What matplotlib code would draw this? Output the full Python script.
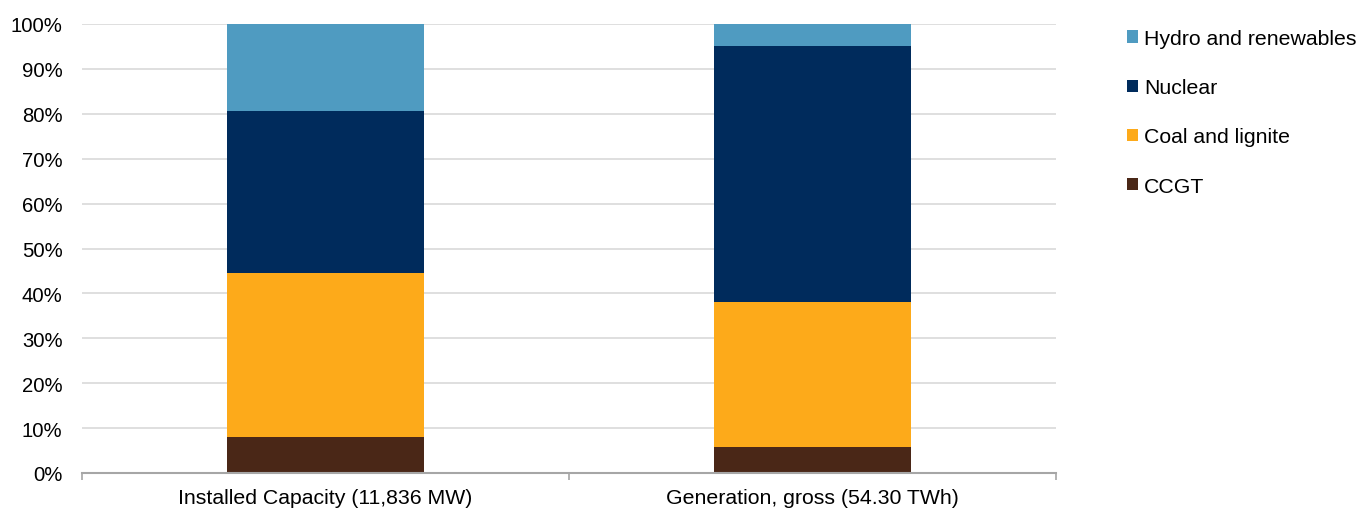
import matplotlib.pyplot as plt
import numpy as np

plt.rcParams['font.family'] = ['Liberation Sans', 'DejaVu Sans']

# Data (percent shares)
categories = ["Installed Capacity (11,836 MW)", "Generation, gross (54.30 TWh)"]
ccgt = [8.0, 5.8]
coal = [36.5, 32.3]
nuclear = [36.1, 57.0]
hydro = [19.4, 4.9]

colors = {"CCGT": "#4a2717", "Coal and lignite": "#fdaa1a",
          "Nuclear": "#002b5c", "Hydro and renewables": "#4f9bc1"}

fig = plt.figure(figsize=(13.6, 5.1), dpi=100)
ax = fig.add_axes([82 / 1360, 1 - 474 / 510, (1056 - 82) / 1360, (474 - 25) / 510])

x = np.arange(len(categories))
w = 0.403
bottom = np.zeros(len(categories))
handles = []
for name, vals in [("CCGT", ccgt), ("Coal and lignite", coal),
                   ("Nuclear", nuclear), ("Hydro and renewables", hydro)]:
    b = ax.bar(x, vals, w, bottom=bottom, color=colors[name], label=name, zorder=3)
    bottom += np.array(vals)
    handles.append(b)

ax.set_xlim(-0.5, 1.5)
ax.set_ylim(0, 100)
ax.set_yticks(np.arange(0, 101, 10))
ax.set_yticklabels([f"{v}%" for v in range(0, 101, 10)], fontsize=14.6)
ax.tick_params(axis='y', length=0, pad=14)
ax.grid(axis='y', color='#d9d9d9', linewidth=1.2, zorder=0)

# category boundaries as tick marks, labels centered
ax.set_xticks([-0.5, 0.5, 1.5])
ax.set_xticklabels([])
ax.tick_params(axis='x', which='major', length=5, color='#a6a6a6', width=1.2)
ax.set_xticks(x, minor=True)
ax.set_xticklabels(categories, minor=True, fontsize=15.3)
ax.tick_params(axis='x', which='minor', length=0, pad=11)

for s in ['top', 'right', 'left']:
    ax.spines[s].set_visible(False)
ax.spines['bottom'].set_color('#a6a6a6')
ax.spines['bottom'].set_linewidth(1.5)
ax.spines['bottom'].set_zorder(4)

leg = fig.legend(handles[::-1], [h.get_label() for h in handles[::-1]],
                 loc='upper left', bbox_to_anchor=(1127 / 1360, 1 - 30 / 510),
                 frameon=False, fontsize=15.3, handlelength=0.5, handleheight=0.5,
                 handletextpad=0.3, labelspacing=1.42, borderpad=0, borderaxespad=0)

fig.savefig("out.png", dpi=100)
